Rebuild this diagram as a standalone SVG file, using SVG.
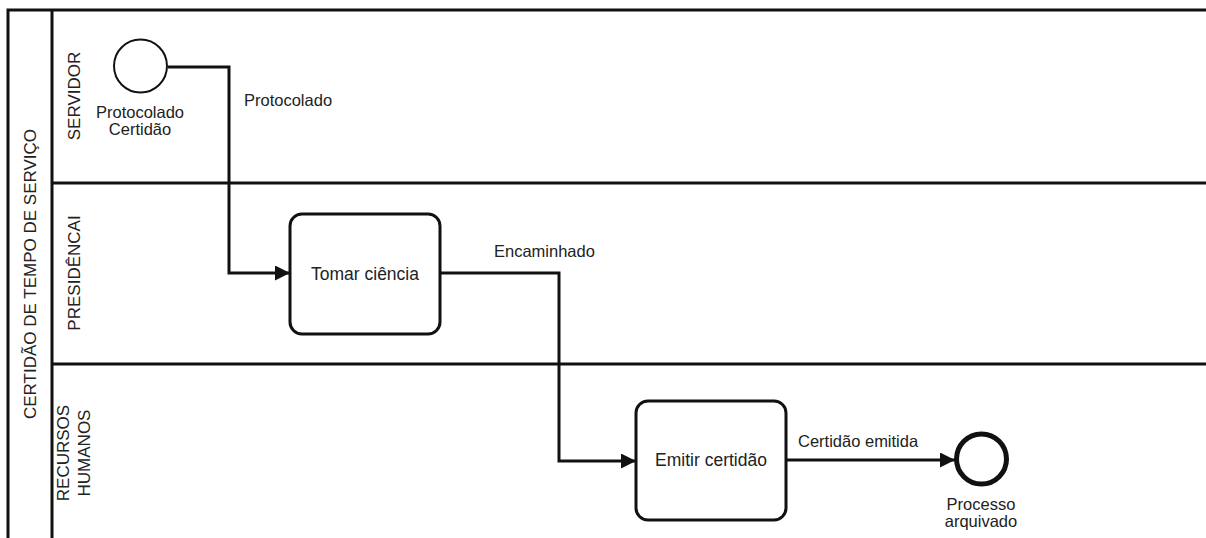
<svg xmlns="http://www.w3.org/2000/svg" width="1206" height="538" viewBox="0 0 1206 538">
<defs>
<style>
.t{font-family:"Liberation Sans",Arial,sans-serif;fill:#222;}
.lbl{font-size:16.5px;}
.task{font-size:17.5px;}
.lane{font-size:17px;}
.pool{fill:none;stroke:#111;stroke-width:3;}
.box{fill:#fff;stroke:#111;stroke-width:3;}
.edge{fill:none;stroke:#111;stroke-width:3;}
</style>
<marker id="arr" viewBox="0 0 15 15" refX="15" refY="7.5" markerWidth="15" markerHeight="15" markerUnits="userSpaceOnUse" orient="auto">
<path d="M0,0 L15,7.5 L0,15 Z" fill="#111"/>
</marker>
</defs>
<rect width="1206" height="538" fill="#fff"/>
<g id="pool">
<path class="pool" d="M1210,10 H8 V545 M52,10 V545 M52,183 H1210 M52,364 H1210"/>
<text class="t lane" transform="translate(36,274) rotate(-90)" text-anchor="middle">CERTIDÃO DE TEMPO DE SERVIÇO</text>
</g>
<g id="lane-servidor"><text class="t lane" transform="translate(80,96) rotate(-90)" text-anchor="middle">SERVIDOR</text></g>
<g id="lane-presidencia"><text class="t lane" transform="translate(80,273) rotate(-90)" text-anchor="middle">PRESIDÊNCAI</text></g>
<g id="lane-rh"><text class="t lane" transform="translate(69,453) rotate(-90)" text-anchor="middle">RECURSOS</text><text class="t lane" transform="translate(90,453) rotate(-90)" text-anchor="middle">HUMANOS</text></g>
<g id="connectors">
<path class="edge" d="M168,67 H229 V273 H290" marker-end="url(#arr)"/>
<text class="t lbl" x="244" y="106">Protocolado</text>
<path class="edge" d="M440,273 H559 V461 H636" marker-end="url(#arr)"/>
<text class="t lbl" x="494" y="257">Encaminhado</text>
<path class="edge" d="M786,460 H955" marker-end="url(#arr)"/>
<text class="t lbl" x="798" y="447">Certidão emitida</text>
</g>
<g id="start">
<circle cx="140.5" cy="66" r="26.5" fill="#fff" stroke="#111" stroke-width="2"/>
<text class="t lbl" x="140" y="118" text-anchor="middle" font-size="15">Protocolado</text>
<text class="t lbl" x="140" y="135" text-anchor="middle" font-size="15">Certidão</text>
</g>
<g id="task-tomar">
<rect class="box" x="290" y="214" width="150" height="120" rx="12"/>
<text class="t task" x="365" y="280" text-anchor="middle">Tomar ciência</text>
</g>
<g id="task-emitir">
<rect class="box" x="636" y="401" width="150" height="119" rx="12"/>
<text class="t task" x="711" y="466" text-anchor="middle">Emitir certidão</text>
</g>
<g id="end">
<circle cx="981.5" cy="459" r="25" fill="#fff" stroke="#111" stroke-width="5"/>
<text class="t lbl" x="981" y="510" text-anchor="middle" font-size="15">Processo</text>
<text class="t lbl" x="981" y="527" text-anchor="middle" font-size="15">arquivado</text>
</g>
</svg>
